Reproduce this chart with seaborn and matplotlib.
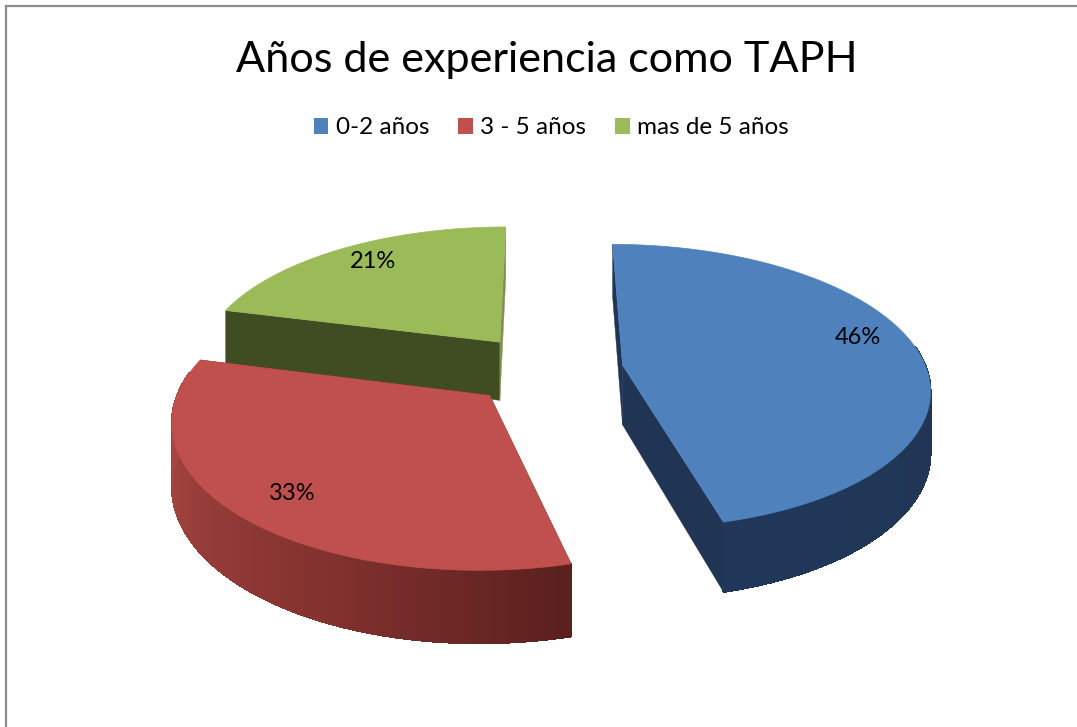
import matplotlib
matplotlib.use("Agg")
import matplotlib.pyplot as plt
import numpy as np
import seaborn as sns
from matplotlib.patches import Patch

# Datos del grafico
title = "Años de experiencia como TAPH"
categories = ["0-2 años", "3 - 5 años", "mas de 5 años"]
values = [46, 33, 21]

top_colors = ["#4F81BD", "#C0504D", "#9BBB59"]
side_start = ["#1F3553", "#5A201E", "#404C22"]
side_end = ["#1F3553", "#5A201E", "#7F9050"]
rim_stops = [
    ["#20354F", "#21375A"],
    ["#5A201E", "#83322F", "#9C403C", "#B04A47"],
    ["#404C22", "#404C22"],
]
label_pos = [(858, 338), (292, 494), (373, 262)]

# Proyeccion del pastel 3D, en pixeles de la imagen
CX, CY = 546, 369.5
RX, RY = 304, 140
PERSP = 0.15
EXPLODE = 0.255
DEPTH = 60

sns.set_theme(style="white")
plt.rcParams["font.family"] = ["Lato", "DejaVu Sans"]


def project(u, v, h=0.0):
    w = 1 + PERSP * v
    return CX + RX * u / w, CY - RY * v / w + h * DEPTH / w


fig = plt.figure(figsize=(10.77, 7.27), dpi=100, facecolor="white")
ax = fig.add_axes([0, 0, 1, 1])
ax.set_xlim(0, 1077)
ax.set_ylim(727, 0)
ax.axis("off")

# Marco gris de la imagen original (solo izquierda y arriba)
ax.plot([6, 6, 1077], [727, 5.5, 5.5], color="#8C8C8C", lw=1.6, solid_joinstyle="miter")

edges = np.cumsum([0] + values) / sum(values) * 2 * np.pi
# Se dibuja de atras hacia adelante: verde, rojo, azul
for i in [2, 1, 0]:
    a0, a1 = edges[i], edges[i + 1]
    mid = (a0 + a1) / 2
    ou, ov = EXPLODE * np.sin(mid), EXPLODE * np.cos(mid)
    theta = np.linspace(a0, a1, 160)
    u = ou + np.sin(theta)
    v = ov + np.cos(theta)

    # Caras radiales
    for a, col in [(a0, side_start[i]), (a1, side_end[i])]:
        eu, ev = ou + np.sin(a), ov + np.cos(a)
        ts = np.linspace(0, 1, 30)
        lu = ou + (eu - ou) * ts
        lv = ov + (ev - ov) * ts
        x1, y1 = project(lu, lv)
        x2, y2 = project(lu, lv, 1)
        ax.fill(np.r_[x1, x2[::-1]], np.r_[y1, y2[::-1]], color=col, lw=0.3)

    # Borde exterior con degradado, solo la parte que mira al frente
    rim = sns.blend_palette(rim_stops[i], len(theta) - 1)
    x1, y1 = project(u, v)
    x2, y2 = project(u, v, 1)
    for k in range(len(theta) - 1):
        if np.cos(theta[k]) > 0.15:
            continue
        ax.fill([x1[k], x1[k + 1], x2[k + 1], x2[k]],
                [y1[k], y1[k + 1], y2[k + 1], y2[k]],
                color=rim[k], lw=0.8, antialiased=False)
        # zorder 1 para que la cara superior tape este trazo
        ax.plot(x2[k:k + 2], y2[k:k + 2], color=rim[k], lw=1.0, solid_capstyle="round", zorder=1)

    # Cara superior
    ax_x, ax_y = project(ou, ov)
    ax.fill(np.r_[ax_x, x1], np.r_[ax_y, y1], color=top_colors[i], lw=0.5)

for val, pos in zip(values, label_pos):
    ax.text(pos[0], pos[1], f"{val}%", ha="center", va="center", fontsize=17, color="black")

ax.text(546.5, 60, title, ha="center", va="center", fontsize=31.1, color="black")

handles = [Patch(facecolor=c, edgecolor="none") for c in top_colors]
ax.legend(handles, categories, ncol=3, loc="center", bbox_to_anchor=(551.5, 128),
          bbox_transform=ax.transData, frameon=False, fontsize=17.5,
          handlelength=0.6, handleheight=0.6, handletextpad=0.3, columnspacing=1.2,
          labelcolor="black")

fig.savefig("out.png", dpi=100)
